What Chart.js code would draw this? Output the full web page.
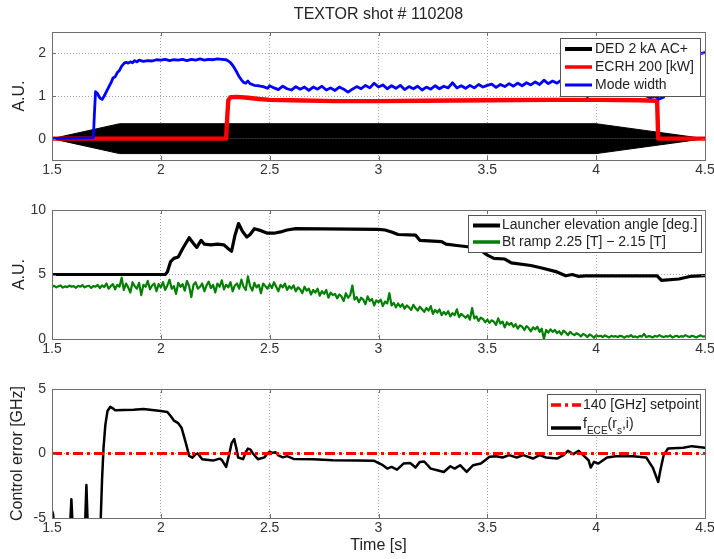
<!DOCTYPE html>
<html><head><meta charset="utf-8">
<script src="https://cdn.jsdelivr.net/npm/chart.js@4.4.1/dist/chart.umd.min.js"></script>
<style>
html,body{margin:0;padding:0;background:#fff;}
#wrap{position:relative;width:714px;height:559px;overflow:hidden;background:#fff;}
canvas{position:absolute;left:0;}
</style></head><body>
<div id="wrap">
<canvas id="c1" width="714" height="185" style="top:0px;width:714px;height:185px"></canvas>
<canvas id="c2" width="714" height="175" style="top:185px;width:714px;height:175px"></canvas>
<canvas id="c3" width="714" height="199" style="top:360px;width:714px;height:199px"></canvas>
</div>
<script>
// ---------- tick labels ----------
const xTicks = [1.5, 2, 2.5, 3, 3.5, 4, 4.5];
const xTickLabels = ['1.5', '2', '2.5', '3', '3.5', '4', '4.5'];
const p1YTicks = [0, 1, 2];
const p1YTickLabels = ['0', '1', '2'];
const p2YTicks = [0, 5, 10];
const p2YTickLabels = ['0', '5', '10'];
const p3YTicks = [-5, 0, 5];
const p3YTickLabels = ['-5', '0', '5'];

// ---------- panel 1 ----------
const dedT = [1.5, 1.81, 4.0, 4.5];
const dedUpper = [0, 0.35, 0.35, 0];
const dedLower = [0, -0.35, -0.35, 0];

const ecrhT = [1.5, 2.0, 2.30, 2.305, 2.31, 2.32, 2.35, 2.40, 2.45, 2.50, 2.60, 2.80, 3.00, 3.20, 3.50, 3.80, 4.00, 4.20, 4.28, 4.285, 4.50];
const ecrhV = [0, 0, 0, 0.5, 0.9, 0.97, 0.98, 0.96, 0.93, 0.91, 0.9, 0.88, 0.88, 0.89, 0.9, 0.91, 0.91, 0.9, 0.89, 0.0, 0.0];

const modeT = [1.50, 1.69, 1.695, 1.70, 1.71, 1.72, 1.73, 1.74, 1.75, 1.76, 1.77, 1.78, 1.79, 1.80, 1.81, 1.82, 1.83, 1.84, 1.85, 1.86,
  1.87, 1.88, 1.89, 1.90, 1.92, 1.94, 1.96, 1.98, 2.00, 2.02, 2.04, 2.06, 2.08, 2.10, 2.12, 2.14, 2.16, 2.18, 2.20, 2.22,
  2.24, 2.26, 2.28, 2.30, 2.31, 2.32, 2.33, 2.34, 2.35, 2.36, 2.37, 2.38, 2.39, 2.40, 2.41, 2.42, 2.43, 2.45, 2.47, 2.49,
  2.50, 2.52, 2.54, 2.56, 2.58, 2.60, 2.62, 2.64, 2.66, 2.68, 2.70, 2.72, 2.74, 2.76, 2.78, 2.80, 2.82, 2.84, 2.86, 2.88,
  2.90, 2.92, 2.94, 2.96, 2.98, 3.00, 3.02, 3.04, 3.06, 3.08, 3.10, 3.12, 3.14, 3.16, 3.18, 3.20, 3.22, 3.24, 3.26, 3.28,
  3.30, 3.32, 3.34, 3.36, 3.38, 3.40, 3.42, 3.44, 3.46, 3.48, 3.50, 3.52, 3.54, 3.56, 3.58, 3.60, 3.62, 3.64, 3.66, 3.68,
  3.70, 3.72, 3.74, 3.76, 3.78, 3.80, 3.82, 3.84, 3.86, 3.88, 3.90, 3.92, 3.94, 3.95, 3.96, 3.97, 4.00, 4.05, 4.10, 4.15,
  4.20, 4.23, 4.25, 4.27, 4.29, 4.31, 4.33, 4.38, 4.44, 4.47, 4.50];
const modeV = [0, 0.02, 0.6, 1.1, 1.05, 0.95, 0.92, 1.0, 1.1, 1.2, 1.3, 1.42, 1.45, 1.55, 1.6, 1.7, 1.76, 1.79, 1.77, 1.8,
  1.78, 1.83, 1.8, 1.84, 1.81, 1.83, 1.82, 1.85, 1.84, 1.86, 1.83, 1.85, 1.84, 1.86, 1.83, 1.86, 1.84, 1.87, 1.84, 1.86,
  1.85, 1.87, 1.86, 1.85, 1.82, 1.78, 1.72, 1.64, 1.55, 1.45, 1.38, 1.32, 1.30, 1.35, 1.29, 1.27, 1.25, 1.24, 1.22, 1.18,
  1.24, 1.19, 1.15, 1.23, 1.17, 1.14, 1.22, 1.16, 1.21, 1.13, 1.21, 1.16, 1.23, 1.14, 1.19, 1.13, 1.21, 1.16, 1.09, 1.16,
  1.22, 1.17, 1.25, 1.19, 1.3, 1.21, 1.26, 1.17, 1.24, 1.18, 1.25, 1.15, 1.22, 1.17, 1.23, 1.14, 1.21, 1.16, 1.24, 1.17,
  1.23, 1.19, 1.31, 1.19, 1.24, 1.18, 1.25, 1.19, 1.27, 1.21, 1.25, 1.28, 1.2, 1.27, 1.22, 1.29, 1.23, 1.3, 1.24, 1.31,
  1.26, 1.33, 1.27, 1.37, 1.29, 1.35, 1.3, 1.37, 1.31, 1.38, 1.32, 1.39, 1.33, 1.3, 0.98, 1.32, 1.36, 1.33, 1.35, 1.3,
  1.2, 1.0, 0.96, 1.0, 0.93, 0.97, 1.2, 1.5, 1.8, 1.98, 2.02];

// ---------- panel 2 ----------
const launchT = [1.50, 2.02, 2.03, 2.045, 2.06, 2.08, 2.10, 2.13, 2.15, 2.165, 2.185, 2.20, 2.23, 2.26, 2.29, 2.31, 2.325, 2.34, 2.357, 2.375,
  2.395, 2.41, 2.43, 2.46, 2.49, 2.52, 2.55, 2.58, 2.62, 3.00, 3.03, 3.06, 3.09, 3.17, 3.19, 3.29, 3.31, 3.36, 3.41, 3.45,
  3.48, 3.50, 3.53, 3.58, 3.61, 3.70, 3.75, 3.82, 3.86, 3.89, 3.92, 3.95, 4.28, 4.30, 4.38, 4.43, 4.50];
const launchV = [5.0, 5.0, 5.2, 6.0, 6.25, 6.35, 7.0, 7.85, 7.4, 7.1, 7.65, 7.35, 7.3, 7.35, 7.3, 7.0, 6.8, 8.0, 8.95, 8.35,
  7.9, 8.1, 8.55, 8.4, 8.2, 8.2, 8.3, 8.45, 8.55, 8.5, 8.45, 8.3, 8.1, 8.05, 7.65, 7.55, 7.35, 7.25, 7.15, 7.0,
  6.75, 6.5, 6.25, 6.2, 5.9, 5.7, 5.5, 5.2, 4.9, 5.0, 4.85, 4.9, 4.9, 4.55, 4.65, 4.85, 4.92];

const btT = [
  1.50, 1.51, 1.52, 1.53, 1.54, 1.55, 1.56, 1.57, 1.58, 1.59,
  1.60, 1.61, 1.62, 1.63, 1.64, 1.65, 1.66, 1.67, 1.68, 1.69,
  1.70, 1.71, 1.72, 1.73, 1.74, 1.75, 1.76, 1.77, 1.78, 1.79,
  1.80, 1.81, 1.82, 1.83, 1.84, 1.85, 1.86, 1.87, 1.88, 1.89,
  1.90, 1.91, 1.92, 1.93, 1.94, 1.95, 1.96, 1.97, 1.98, 1.99,
  2.00, 2.01, 2.02, 2.03, 2.04, 2.05, 2.06, 2.07, 2.08, 2.09,
  2.10, 2.11, 2.12, 2.13, 2.14, 2.15, 2.16, 2.17, 2.18, 2.19,
  2.20, 2.21, 2.22, 2.23, 2.24, 2.25, 2.26, 2.27, 2.28, 2.29,
  2.30, 2.31, 2.32, 2.33, 2.34, 2.35, 2.36, 2.37, 2.38, 2.39,
  2.40, 2.41, 2.42, 2.43, 2.44, 2.45, 2.46, 2.47, 2.48, 2.49,
  2.50, 2.51, 2.52, 2.53, 2.54, 2.55, 2.56, 2.57, 2.58, 2.59,
  2.60, 2.61, 2.62, 2.63, 2.64, 2.65, 2.66, 2.67, 2.68, 2.69,
  2.70, 2.71, 2.72, 2.73, 2.74, 2.75, 2.76, 2.77, 2.78, 2.79,
  2.80, 2.81, 2.82, 2.83, 2.84, 2.85, 2.86, 2.87, 2.88, 2.89,
  2.90, 2.91, 2.92, 2.93, 2.94, 2.95, 2.96, 2.97, 2.98, 2.99,
  3.00, 3.01, 3.02, 3.03, 3.04, 3.05, 3.06, 3.07, 3.08, 3.09,
  3.10, 3.11, 3.12, 3.13, 3.14, 3.15, 3.16, 3.17, 3.18, 3.19,
  3.20, 3.21, 3.22, 3.23, 3.24, 3.25, 3.26, 3.27, 3.28, 3.29,
  3.30, 3.31, 3.32, 3.33, 3.34, 3.35, 3.36, 3.37, 3.38, 3.39,
  3.40, 3.41, 3.42, 3.43, 3.44, 3.45, 3.46, 3.47, 3.48, 3.49,
  3.50, 3.51, 3.52, 3.53, 3.54, 3.55, 3.56, 3.57, 3.58, 3.59,
  3.60, 3.61, 3.62, 3.63, 3.64, 3.65, 3.66, 3.67, 3.68, 3.69,
  3.70, 3.71, 3.72, 3.73, 3.74, 3.75, 3.76, 3.77, 3.78, 3.79,
  3.80, 3.81, 3.82, 3.83, 3.84, 3.85, 3.86, 3.87, 3.88, 3.89,
  3.90, 3.91, 3.92, 3.93, 3.94, 3.95, 3.96, 3.97, 3.98, 3.99,
  4.00, 4.01, 4.02, 4.03, 4.04, 4.05, 4.06, 4.07, 4.08, 4.09,
  4.10, 4.11, 4.12, 4.13, 4.14, 4.15, 4.16, 4.17, 4.18, 4.19,
  4.20, 4.21, 4.22, 4.23, 4.24, 4.25, 4.26, 4.27, 4.28, 4.29,
  4.30, 4.31, 4.32, 4.33, 4.34, 4.35, 4.36, 4.37, 4.38, 4.39,
  4.40, 4.41, 4.42, 4.43, 4.44, 4.45, 4.46, 4.47, 4.48, 4.49,
  4.50];
const btV = [
  4.05, 4.12, 4.0, 4.1, 4.15, 3.98, 4.08, 4.02, 4.14, 4.05,
  4.1, 3.97, 4.12, 4.05, 4.18, 4.0, 4.09, 4.13, 3.96, 4.1,
  4.05, 4.2, 3.95, 4.15, 4.02, 4.3, 3.9, 4.1, 4.25, 3.85,
  4.2, 4.05, 4.75, 3.8, 4.3, 4.0, 3.6, 4.4, 4.1, 3.9,
  4.35, 3.4, 4.2, 4.05, 4.5, 3.85, 4.15, 4.3, 3.7, 4.25,
  4.0, 4.4, 3.8, 4.15, 4.6, 3.9, 4.1, 3.5, 4.35, 4.05,
  4.25, 3.75, 4.5, 4.1, 3.25, 4.2, 4.4, 3.9, 4.05, 4.3,
  3.7, 4.15, 4.45, 3.95, 4.2, 3.6, 4.3, 4.05, 4.55, 3.85,
  4.2, 4.0, 4.4, 3.7, 4.15, 4.3, 3.9, 4.6, 4.05, 3.8,
  4.85, 4.1, 3.75, 4.35, 4.0, 4.2, 3.55, 4.3, 4.1, 3.9,
  4.25, 3.95, 4.4, 4.05, 3.7, 4.2, 4.0, 4.3, 3.8, 4.1,
  3.9, 4.15, 3.7, 4.0, 3.85, 3.55, 4.05, 3.75, 3.9, 3.45,
  3.8, 3.6, 3.9, 3.35, 3.7, 3.5, 3.8, 3.2, 3.6, 3.4,
  3.5, 3.15, 3.45, 3.3, 2.95, 3.55, 3.2, 3.4, 4.15, 3.05,
  3.25, 2.85, 3.2, 3.05, 2.7, 3.3, 2.95, 3.1, 2.6, 3.0,
  2.85, 3.05, 2.55, 2.9, 2.75, 3.55, 2.6, 2.8, 2.45, 2.75,
  2.5, 2.7, 2.35, 2.6, 2.45, 2.25, 2.65, 2.4, 2.2, 2.5,
  2.3, 2.1, 2.4, 2.2, 2.55, 1.95, 2.25, 2.05, 2.3, 1.85,
  2.1, 1.9, 2.15, 1.75, 2.0, 1.85, 2.3, 1.7, 1.95, 1.8,
  1.65, 1.85, 1.5, 2.4, 1.6, 1.75, 1.4, 1.65, 1.55, 1.3,
  1.5, 1.25, 1.45, 1.35, 1.1, 1.6, 1.2, 1.35, 0.9, 1.3,
  1.1, 1.25, 0.95, 1.15, 0.8, 1.05, 0.95, 0.7, 1.0, 0.85,
  0.6, 0.9, 0.75, 0.95, 0.55, 0.8, 0.0, 0.7, 0.5, 0.75,
  0.55, 0.7, 0.45, 0.6, 0.35, 0.65, 0.5, 0.3, 0.55, 0.4,
  0.3, 0.45, 0.35, 0.2, 0.4, 0.3, 0.15, 0.35, 0.25, 0.1,
  0.3, 0.2, 0.25, 0.15, 0.28, 0.2, 0.12, 0.25, 0.18, 0.22,
  0.15, 0.25, 0.2, 0.1, 0.22, 0.18, 0.3, 0.15, 0.2, 0.12,
  0.25, 0.18, 0.4, 0.15, 0.22, 0.2, 0.12, 0.25, 0.18, 0.3,
  0.2, 0.15, 0.22, 0.18, 0.28, 0.12, 0.2, 0.25, 0.15, 0.22,
  0.18, 0.3, 0.2, 0.15, 0.25, 0.2, 0.12, 0.22, 0.28, 0.18,
  0.2];

// ---------- panel 3 ----------
const setpointT = [1.5, 4.5];
const setpointV = [0, 0];

const ceT = [1.50, 1.505, 1.512, 1.582, 1.589, 1.596, 1.651, 1.658, 1.665, 1.722, 1.73, 1.737, 1.745, 1.755, 1.768, 1.78, 1.79, 1.83, 1.875, 1.92,
  1.96, 2.00, 2.03, 2.045, 2.06, 2.08, 2.095, 2.105, 2.115, 2.13, 2.145, 2.16, 2.17, 2.19, 2.24, 2.27, 2.28, 2.30, 2.315, 2.325,
  2.337, 2.347, 2.355, 2.378, 2.39, 2.40, 2.412, 2.423, 2.446, 2.476, 2.49, 2.50, 2.512, 2.526, 2.54, 2.56, 2.58, 2.61, 2.70, 2.79,
  2.90, 2.98, 3.02, 3.04, 3.06, 3.085, 3.115, 3.145, 3.17, 3.19, 3.21, 3.24, 3.27, 3.30, 3.33, 3.35, 3.375, 3.405, 3.435, 3.47,
  3.49, 3.51, 3.54, 3.57, 3.60, 3.635, 3.665, 3.71, 3.74, 3.77, 3.82, 3.85, 3.87, 3.895, 3.92, 3.94, 3.965, 3.975, 3.99, 4.01,
  4.05, 4.09, 4.17, 4.23, 4.26, 4.285, 4.295, 4.31, 4.33, 4.40, 4.44, 4.50];
const ceV = [-4.45, -4.7, -6, -6, -3.55, -6, -6, -2.45, -6, -6, -2.0, 0.5, 2.2, 3.3, 3.62, 3.5, 3.35, 3.38, 3.4, 3.45,
  3.38, 3.3, 3.22, 2.9, 2.55, 2.35, 2.0, 1.4, 0.8, -0.18, -0.32, -0.05, 0.0, -0.44, -0.55, -0.4, -0.5, -1.04, 0.0, 0.8,
  1.12, 0.4, -0.31, -0.44, 0.1, 0.38, 0.3, 0.0, -0.44, -0.3, 0.0, 0.15, 0.05, 0.1, -0.15, -0.3, -0.2, -0.42, -0.45, -0.52,
  -0.55, -0.57, -0.91, -1.17, -1.04, -1.25, -0.78, -0.73, -1.09, -0.65, -0.62, -1.17, -1.3, -1.43, -0.99, -1.17, -0.91, -1.43, -0.91, -0.78,
  -0.52, -0.26, -0.21, -0.31, -0.13, -0.31, -0.13, -0.39, -0.13, -0.31, -0.39, -0.13, 0.21, -0.05, 0.21, -0.13, -0.52, -1.09, -0.65, -0.78,
  -0.31, -0.21, -0.21, -0.31, -1.09, -2.21, -1.3, -0.13, 0.39, 0.44, 0.57, 0.44];

// ---------- helpers ----------
const FONT = "'Liberation Sans', Arial, Helvetica, sans-serif";
const pts = (t, v) => t.map((x, i) => ({x: x, y: v[i]}));

function drawRich(ctx, text, x, y, size, color) {
  const parts = text.split(/(_\{[^}]*\})/).filter(s => s.length);
  ctx.fillStyle = color;
  ctx.textAlign = 'left';
  ctx.textBaseline = 'middle';
  let cx = x;
  const hasSub = parts.some(p => p.startsWith('_{'));
  parts.forEach(p => {
    if (p.startsWith('_{')) {
      const s = p.slice(2, -1);
      ctx.font = (size * 0.72) + 'px ' + FONT;
      ctx.fillText(s, cx, y + 3);
      cx += ctx.measureText(s).width;
    } else {
      ctx.font = size + 'px ' + FONT;
      ctx.fillText(p, cx, hasSub ? y - 4 : y);
      cx += ctx.measureText(p).width;
    }
  });
}

const matlabPlugin = {
  id: 'matlab',
  afterDraw(chart, args, o) {
    const ctx = chart.ctx, a = chart.chartArea;
    const xs = chart.scales.x, ys = chart.scales.y;
    ctx.save();
    ctx.setLineDash([]);
    ctx.strokeStyle = '#6e6e6e';
    ctx.lineWidth = 1;
    ctx.beginPath();
    xs.ticks.forEach(t => {
      const px = Math.round(xs.getPixelForValue(t.value)) + 0.5;
      ctx.moveTo(px, a.bottom); ctx.lineTo(px, a.bottom - 4);
      ctx.moveTo(px, a.top); ctx.lineTo(px, a.top + 4);
    });
    ys.ticks.forEach(t => {
      const py = Math.round(ys.getPixelForValue(t.value)) + 0.5;
      ctx.moveTo(a.left, py); ctx.lineTo(a.left + 4, py);
      ctx.moveTo(a.right, py); ctx.lineTo(a.right - 4, py);
    });
    ctx.stroke();
    ctx.strokeRect(Math.round(a.left) + 0.5, Math.round(a.top) + 0.5, Math.round(a.right - a.left), Math.round(a.bottom - a.top));
    if (o.title) {
      ctx.fillStyle = '#222';
      ctx.font = '16px ' + FONT;
      ctx.textAlign = 'center';
      ctx.textBaseline = 'middle';
      ctx.fillText(o.title.text, (a.left + a.right) / 2, o.title.y);
    }
    if (o.legend) {
      const L = o.legend;
      ctx.fillStyle = '#fff';
      ctx.fillRect(L.x, L.y, L.w, L.h);
      ctx.strokeStyle = '#555';
      ctx.lineWidth = 1;
      ctx.strokeRect(L.x + 0.5, L.y + 0.5, L.w, L.h);
      L.items.forEach(it => {
        const ds = chart.data.datasets[it.ds];
        ctx.save();
        ctx.strokeStyle = ds.borderColor;
        ctx.lineWidth = it.lw;
        ctx.setLineDash(ds.borderDash || []);
        ctx.beginPath();
        ctx.moveTo(L.x0, it.y); ctx.lineTo(L.x1, it.y);
        ctx.stroke();
        ctx.restore();
        drawRich(ctx, ds.label, L.tx, it.y, L.size, '#222');
      });
    }
    ctx.restore();
  }
};

function makeOptions(o) {
  return {
    responsive: false, animation: false, devicePixelRatio: 1,
    events: [],
    layout: {padding: {top: o.top, right: 9, left: 0, bottom: 0}},
    plugins: {legend: {display: false}, tooltip: {enabled: false}, title: {display: false}, matlab: o.matlab},
    elements: {point: {radius: 0}, line: {tension: 0, borderJoinStyle: 'round', borderCapStyle: 'round'}},
    scales: {
      x: {
        type: 'linear', min: 1.5, max: 4.5,
        afterBuildTicks: s => { s.ticks = xTicks.map(v => ({value: v})); },
        ticks: {callback: (v, i) => xTickLabels[i], padding: 2, color: '#333', font: {family: FONT, size: 14}, maxRotation: 0, autoSkip: false},
        grid: {color: '#a0a0a0', lineWidth: 1, drawTicks: false},
        border: {display: false, dash: [1, 2]},
        title: o.xTitle ? {display: true, text: o.xTitle, color: '#222', font: {family: FONT, size: 16}, padding: {top: 0, bottom: 4}} : {display: false},
        afterFit: s => { s.height = o.xh; s.paddingLeft = 0; s.paddingRight = 0; }
      },
      y: {
        type: 'linear', min: o.ymin, max: o.ymax,
        afterBuildTicks: s => { s.ticks = o.yTicks.map(v => ({value: v})); },
        ticks: {callback: (v, i) => o.yLabels[i], padding: 6, color: '#333', font: {family: FONT, size: 14}, autoSkip: false},
        grid: {color: '#a0a0a0', lineWidth: 1, drawTicks: false},
        border: {display: false, dash: [1, 2]},
        title: {display: true, text: o.yTitle, color: '#222', font: {family: FONT, size: 16}, padding: {top: o.ytp, bottom: 0}},
        afterFit: s => { s.width = 52; s.paddingTop = 0; s.paddingBottom = 0; }
      }
    }
  };
}

// ---------- chart 1 ----------
new Chart(document.getElementById('c1'), {
  type: 'line',
  data: {datasets: [
    {label: 'Mode width', data: pts(modeT, modeV), borderColor: '#0000ff', borderWidth: 2.8, fill: false},
    {label: 'ECRH 200 [kW]', data: pts(ecrhT, ecrhV), borderColor: '#ff0000', borderWidth: 4.4, fill: false},
    {label: 'DED 2 kA AC+', data: pts(dedT, dedUpper), borderColor: '#000', backgroundColor: '#000', borderWidth: 1, fill: 'origin'},
    {label: 'DED 2 kA AC+', data: pts(dedT, dedLower), borderColor: '#000', backgroundColor: '#000', borderWidth: 1, fill: 'origin'}
  ]},
  options: makeOptions({
    top: 32, xh: 25, ymin: -0.5, ymax: 2.5, yTicks: p1YTicks, yLabels: p1YTickLabels, yTitle: 'A.U.', ytp: 10,
    matlab: {
      title: {text: 'TEXTOR shot # 110208', y: 15},
      legend: {x: 560, y: 38, w: 140, h: 58, x0: 565, x1: 592, tx: 595, size: 14,
        items: [{ds: 2, y: 49, lw: 4}, {ds: 1, y: 67, lw: 3.5}, {ds: 0, y: 85, lw: 3}]}
    }
  }),
  plugins: [matlabPlugin]
});

// ---------- chart 2 ----------
new Chart(document.getElementById('c2'), {
  type: 'line',
  data: {datasets: [
    {label: 'Launcher elevation angle [deg.]', data: pts(launchT, launchV), borderColor: '#000000', borderWidth: 3.2, fill: false},
    {label: 'Bt ramp 2.25 [T] \u2212 2.15 [T]', data: pts(btT, btV), borderColor: '#008000', borderWidth: 2.2, fill: false}
  ]},
  options: makeOptions({
    top: 25, xh: 21, ymin: 0, ymax: 10, yTicks: p2YTicks, yLabels: p2YTickLabels, yTitle: 'A.U.', ytp: 10,
    matlab: {
      legend: {x: 468, y: 30, w: 233, h: 37, x0: 473, x1: 500, tx: 502, size: 14,
        items: [{ds: 0, y: 40.5, lw: 4}, {ds: 1, y: 57, lw: 3.5}]}
    }
  }),
  plugins: [matlabPlugin]
});

// ---------- chart 3 ----------
new Chart(document.getElementById('c3'), {
  type: 'line',
  data: {datasets: [
    {label: '140 [GHz] setpoint', data: pts(setpointT, setpointV), borderColor: '#ff0000', borderWidth: 3.2, borderDash: [10, 4, 3, 4], fill: false, borderCapStyle: 'butt'},
    {label: 'f_{ECE}(r_{s},i)', data: pts(ceT, ceV), borderColor: '#000000', borderWidth: 2.5, fill: false}
  ]},
  options: makeOptions({
    top: 29, xh: 41, ymin: -5, ymax: 5, yTicks: p3YTicks, yLabels: p3YTickLabels, yTitle: 'Control error [GHz]', ytp: 8, xTitle: 'Time [s]',
    matlab: {
      legend: {x: 547, y: 34, w: 153, h: 41, x0: 551, x1: 581, tx: 583, size: 14,
        items: [{ds: 0, y: 45, lw: 3.5}, {ds: 1, y: 68, lw: 3.5}]}
    }
  }),
  plugins: [matlabPlugin]
});
</script>
</body></html>
